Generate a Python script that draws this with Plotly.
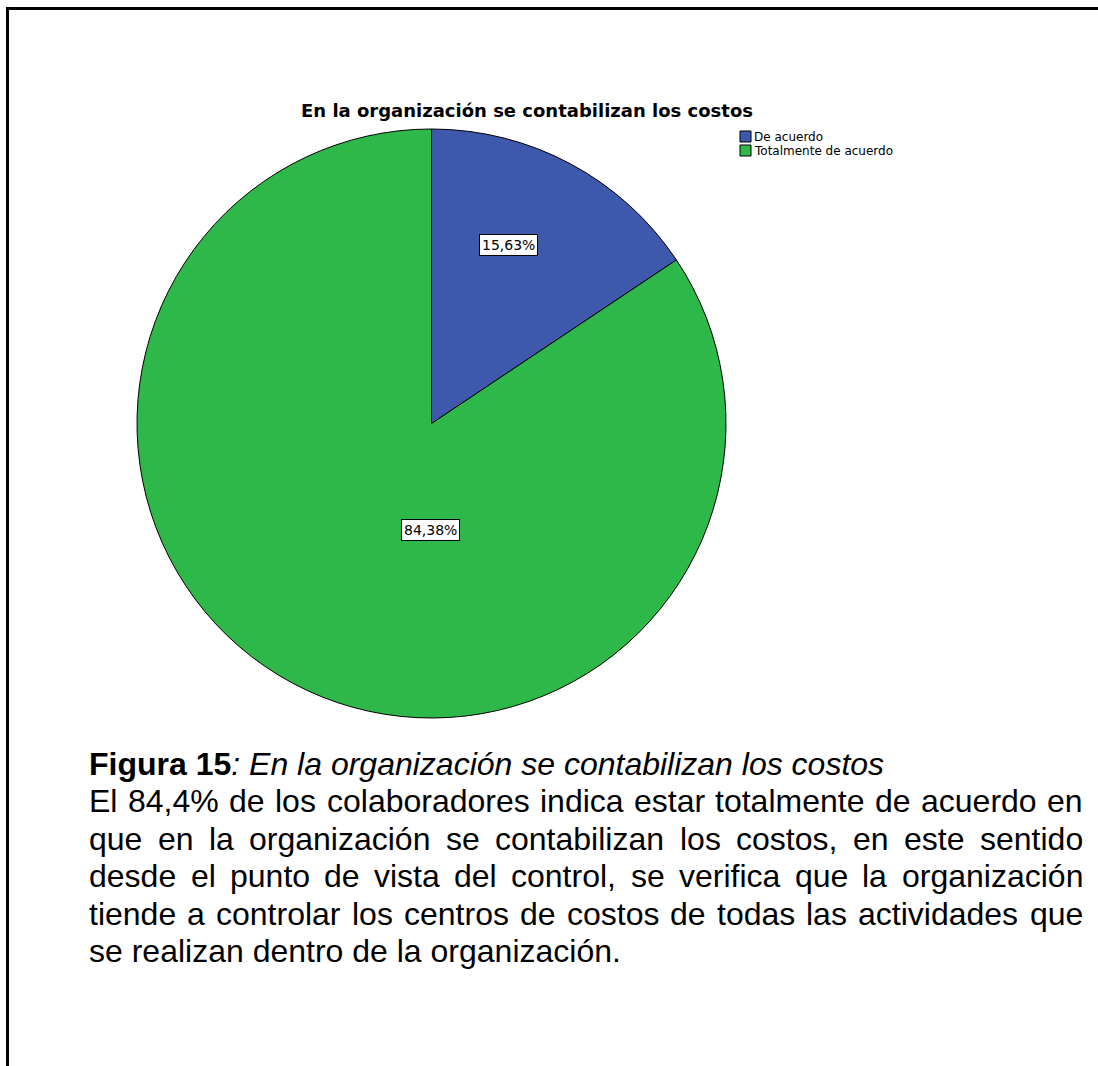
import plotly.graph_objects as go

# Survey answers and their shares (%)
categories = ["De acuerdo", "Totalmente de acuerdo"]
shares = [15.63, 84.38]
colors = ["#3E58AC", "#2EB84A"]

chart_title = "En la organización se contabilizan los costos"
figure_label = "Figura 15"

W, H = 1098, 1066


def px(x):
    return x / W


def py(y):
    return 1 - y / H


def pct(v, nd=2):
    return f"{v:.{nd}f}".replace(".", ",") + "%"


# Advance widths (1/1000 em) of Liberation Sans regular, used to justify the caption
ADV = {c: 556 for c in "abdeghnopqu0123456789áéóúñ"}
ADV.update({c: 500 for c in "cksvxyz"})
ADV.update({c: 222 for c in "ijlí"})
ADV.update({"f": 278, "t": 278, "r": 333, "m": 833, "w": 722, " ": 278,
            ",": 278, ".": 278, ":": 278, "%": 889, "E": 667, "F": 611})


def text_width(s, size):
    return sum(ADV.get(c, 556) for c in s) * size / 1000


fig = go.Figure()

fig.add_trace(go.Pie(
    labels=categories,
    values=shares,
    sort=False,
    direction="clockwise",
    rotation=0,
    marker=dict(colors=colors, line=dict(color="#000000", width=1)),
    textinfo="none",
    hoverinfo="label+percent",
    showlegend=False,
    domain=dict(x=[px(137), px(726)], y=[py(720), py(127)]),
))

annotations = []
shapes = []

# chart title
annotations.append(dict(
    text=f"<b>{chart_title}</b>", x=px(527), y=py(110), xref="paper", yref="paper",
    showarrow=False, xanchor="center", yanchor="middle",
    font=dict(family="DejaVu Sans", size=18, color="#000000"),
))

# boxed percentage labels inside the slices
label_pos = [(508, 245), (431, 530)]
for v, (lx, ly) in zip(shares, label_pos):
    annotations.append(dict(
        text=pct(v), x=px(lx), y=py(ly), xref="paper", yref="paper",
        showarrow=False, xanchor="center", yanchor="middle",
        font=dict(family="DejaVu Sans", size=14, color="#000000"),
        bgcolor="#FFFFFF", bordercolor="#000000", borderwidth=1, borderpad=2,
    ))

# legend: small swatches with the category names
for i, (name, col) in enumerate(zip(categories, colors)):
    top = 131 + 14 * i
    shapes.append(dict(
        type="rect", xref="paper", yref="paper",
        x0=px(740), x1=px(751), y0=py(top + 11), y1=py(top),
        fillcolor=col, line=dict(color="#000000", width=1),
    ))
    annotations.append(dict(
        text=name, x=px(753), y=py(top + 5.5), xref="paper", yref="paper",
        showarrow=False, xanchor="left", yanchor="middle", borderpad=0,
        font=dict(family="DejaVu Sans", size=12, color="#000000"),
    ))

# caption below the chart (justified paragraph)
cap_size = 32
cap_left, cap_right = 88, 1082
first_baseline, pitch = 775, 37.4
cap_font = dict(family="Liberation Sans", size=cap_size, color="#000000")


def baseline_to_mid(b):
    # middle of the text box sits about 0.35 em above the baseline
    return b - 0.3465 * cap_size


annotations.append(dict(
    text=f"<b>{figure_label}</b><i>: {chart_title}</i>",
    x=px(cap_left), y=py(baseline_to_mid(first_baseline)), xref="paper", yref="paper",
    showarrow=False, xanchor="left", yanchor="middle", borderpad=0, font=cap_font,
))

body_lines = [
    f"El {pct(shares[1], 1)} de los colaboradores indica estar totalmente de acuerdo en",
    "que en la organización se contabilizan los costos, en este sentido",
    "desde el punto de vista del control, se verifica que la organización",
    "tiende a controlar los centros de costos de todas las actividades que",
    "se realizan dentro de la organización.",
]
for i, line in enumerate(body_lines):
    yb = baseline_to_mid(first_baseline + pitch * (i + 1))
    words = line.split(" ")
    last = i == len(body_lines) - 1
    if last:
        annotations.append(dict(
            text=line, x=px(cap_left), y=py(yb), xref="paper", yref="paper",
            showarrow=False, xanchor="left", yanchor="middle", borderpad=0, font=cap_font,
        ))
        continue
    widths = [text_width(w, cap_size) for w in words]
    gap = (cap_right - cap_left - sum(widths)) / (len(words) - 1)
    x = cap_left
    for w, wd in zip(words, widths):
        annotations.append(dict(
            text=w, x=px(x), y=py(yb), xref="paper", yref="paper",
            showarrow=False, xanchor="left", yanchor="middle", borderpad=0, font=cap_font,
        ))
        x += wd + gap

# page frame (top and left edges)
shapes += [
    dict(type="line", xref="paper", yref="paper", x0=px(6), x1=1, y0=py(8.5), y1=py(8.5),
         line=dict(color="#000000", width=3)),
    dict(type="line", xref="paper", yref="paper", x0=px(7.5), x1=px(7.5), y0=py(7), y1=0,
         line=dict(color="#000000", width=3)),
]

fig.update_layout(
    width=W, height=H,
    margin=dict(l=0, r=0, t=0, b=0),
    paper_bgcolor="#FFFFFF",
    plot_bgcolor="#FFFFFF",
    showlegend=False,
    annotations=annotations,
    shapes=shapes,
)

fig.write_html("out.html")
